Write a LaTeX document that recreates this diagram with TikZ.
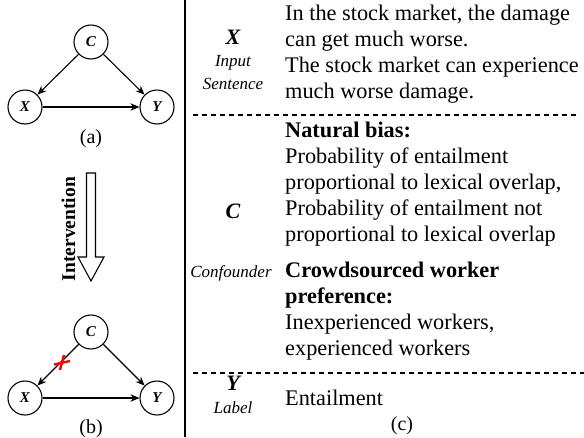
\documentclass[tikz,border=0pt]{standalone}
\usepackage{fontspec}
\setmainfont{Liberation Serif}
\usetikzlibrary{arrows.meta}
\begin{document}
\begin{tikzpicture}[x=1pt,y=-1pt,
  var/.style={circle,draw,line width=1.1pt,minimum size=34pt,inner sep=0pt,font=\fontsize{15}{15}\selectfont\bfseries\itshape},
  edge/.style={-{Stealth[length=9pt,width=7.5pt]},line width=1.1pt},
  body/.style={anchor=base west,inner sep=0pt,font=\fontsize{22.3}{26}\selectfont},
  bodyb/.style={anchor=base west,inner sep=0pt,font=\fontsize{22.3}{26}\selectfont\bfseries},
  sym/.style={anchor=base,inner sep=0pt,font=\fontsize{22}{22}\selectfont\bfseries\itshape},
  role/.style={anchor=base,inner sep=0pt,font=\fontsize{17}{17}\selectfont\itshape},
  capt/.style={anchor=base,inner sep=0pt,font=\fontsize{20}{20}\selectfont},
  sep/.style={dash pattern=on 5pt off 4pt,line width=1.1pt},
  cut/.style={draw=red,line width=2.4pt}]
\useasboundingbox (0,0) rectangle (584,437);
% graph (a)
\node[var] (ca) at (91,42) {C};
\node[var] (xa) at (25,107) {X};
\node[var] (ya) at (157,107) {Y};
\draw[edge] (ca) -- (xa);
\draw[edge] (ca) -- (ya);
\draw[edge] (xa) -- (ya);
\node[capt] (la) at (91,143) {(a)};
% intervention arrow
\draw[line width=1.1pt,fill=white] (86.5,173) -- (95.5,173) -- (95.5,257) -- (104,257) -- (91,281) -- (78,257) -- (86.5,257) -- cycle;
\node[rotate=90,inner sep=0pt,font=\fontsize{19.5}{20}\selectfont\bfseries] (int) at (68.5,229) {Intervention};
% graph (b)
\node[var] (cb) at (91,332) {C};
\node[var] (xb) at (25,398) {X};
\node[var] (yb) at (157,398) {Y};
\draw[edge] (cb) -- (xb);
\draw[edge] (cb) -- (yb);
\draw[edge] (xb) -- (yb);
\coordinate (cutpt) at (62,363);
\draw[cut] (cutpt) ++(-8,1.5) -- ++(16,-3.5);
\draw[cut] (cutpt) ++(2,-8) -- ++(-4,15);
\node[capt] (lb) at (91,433) {(b)};
% panel (c)
\coordinate (vtop) at (185,0);
\coordinate (vbot) at (185,437);
\draw[line width=1.3pt] (vtop) -- (vbot);
\coordinate (s1a) at (193,115);
\coordinate (s1b) at (580,115);
\coordinate (s2a) at (193,373);
\coordinate (s2b) at (584,373);
\draw[sep] (s1a) -- (s1b);
\draw[sep] (s2a) -- (s2b);
% labels
\node[sym] (lx) at (233,44) {X};
\node[role] (lx1) at (233,66) {Input};
\node[role] (lx2) at (233,89) {Sentence};
\node[sym] (lc) at (233,218) {C};
\node[role] (lc1) at (231,277) {Confounder};
\node[sym] (ly) at (233,390) {Y};
\node[role] (ly1) at (233,413) {Label};
% texts
\node[body] (t1) at (285,20) {In the stock market, the damage};
\node[body] (t2) at (285,46) {can get much worse.};
\node[body] (t3) at (285,72) {The stock market can experience};
\node[body] (t4) at (285,98) {much worse damage.};
\node[bodyb] (t5) at (285,137) {Natural bias:};
\node[body] (t6) at (285,163) {Probability of entailment};
\node[body] (t7) at (285,189) {proportional to lexical overlap,};
\node[body] (t8) at (285,215) {Probability of entailment not};
\node[body] (t9) at (285,241) {proportional to lexical overlap};
\node[bodyb] (t10) at (285,277) {Crowdsourced worker};
\node[bodyb] (t11) at (285,303) {preference:};
\node[body] (t12) at (285,329) {Inexperienced workers,};
\node[body] (t13) at (285,355) {experienced workers};
\node[body] (t14) at (285,405) {Entailment};
\node[capt] (lcc) at (402,430) {(c)};
\end{tikzpicture}
\end{document}
